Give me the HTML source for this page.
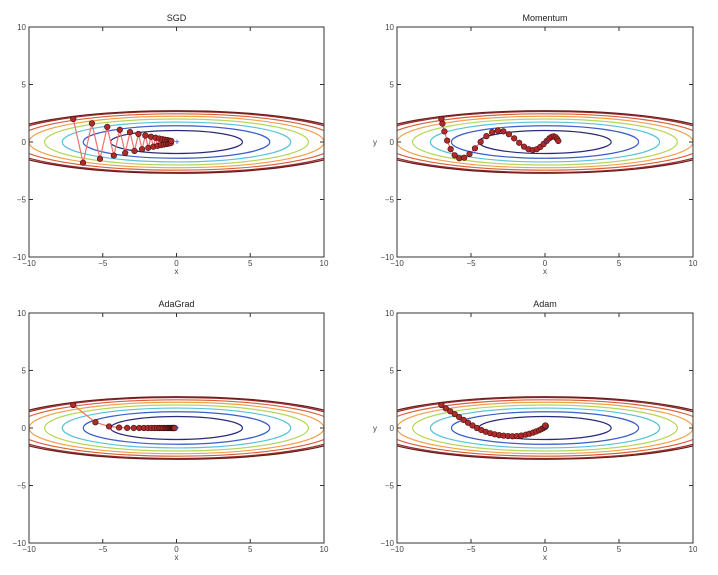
<!DOCTYPE html>
<html><head><meta charset="utf-8"><style>
body{margin:0;background:#fff}
svg{display:block;font-family:"Liberation Sans",sans-serif}
</style></head><body>
<svg id="fig" width="718" height="575" viewBox="0 0 718 575" xmlns="http://www.w3.org/2000/svg"></svg>
<script>
const contourLevels=[1,2,3,4,5,6,7,7.4];
const contourColors=["#2b2b7a","#3b5ec8","#5cc3d8","#b5d65a","#f2a04c","#d8603c","#9a2a2a","#6a1c1c"];
const tickValues=[-10,-5,0,5,10];
const tickLabels=["\u221210","\u22125","0","5","10"];
const sgdX=[-7,-6.335,-5.733,-5.188,-4.695,-4.249,-3.846,-3.480,-3.150,-2.850,-2.580,-2.335,-2.113,-1.912,-1.730,-1.566,-1.417,-1.282,-1.161,-1.050,-0.951,-0.860,-0.778,-0.704,-0.637,-0.577,-0.522,-0.472,-0.427,-0.387,-0.350];
const sgdY=[2,-1.8,1.62,-1.458,1.312,-1.181,1.063,-0.957,0.861,-0.775,0.697,-0.628,0.565,-0.508,0.458,-0.412,0.371,-0.334,0.300,-0.270,0.243,-0.219,0.197,-0.177,0.160,-0.144,0.129,-0.116,0.105,-0.094,0.085];
const momX=[-7,-6.93,-6.798,-6.611,-6.376,-6.102,-5.793,-5.458,-5.101,-4.730,-4.348,-3.960,-3.572,-3.187,-2.809,-2.440,-2.084,-1.743,-1.418,-1.112,-0.825,-0.558,-0.313,-0.089,0.114,0.295,0.455,0.594,0.714,0.814,0.897];
const momY=[2,1.6,0.92,0.124,-0.617,-1.161,-1.418,-1.366,-1.046,-0.548,0.009,0.509,0.857,0.999,0.927,0.676,0.316,-0.072,-0.406,-0.626,-0.699,-0.624,-0.433,-0.174,0.094,0.317,0.453,0.486,0.418,0.273,0.088];
const adaX=[-7,-5.5,-4.573,-3.888,-3.345,-2.899,-2.524,-2.206,-1.932,-1.695,-1.489,-1.310,-1.153,-1.015,-0.895,-0.788,-0.695,-0.613,-0.540,-0.477,-0.420,-0.371,-0.327,-0.289,-0.255,-0.225,-0.198,-0.175,-0.154,-0.136,-0.120];
const adaY=[2,0.5,0.136,0.037,0.010,0.003,0.001,0,0,0,0,0,0,0,0,0,0,0,0,0,0,0,0,0,0,0,0,0,0,0,0];
const adamX=[-7,-6.7,-6.4,-6.1,-5.8,-5.5,-5.2,-4.9,-4.6,-4.3,-4.0,-3.7,-3.4,-3.1,-2.8,-2.5,-2.2,-1.9,-1.6,-1.3,-1.05,-0.8,-0.6,-0.4,-0.25,-0.1,0,0.05,0.05,0.02];
const adamY=[2,1.7,1.45,1.2,0.95,0.7,0.45,0.22,0,-0.18,-0.33,-0.45,-0.55,-0.62,-0.67,-0.7,-0.72,-0.7,-0.66,-0.58,-0.5,-0.4,-0.3,-0.2,-0.1,0,0.08,0.15,0.2,0.22];
const panels=[
 {name:"sgd",title:"SGD",x0:29,x1:324,y0:27,y1:257,ylab:false,xs:sgdX,ys:sgdY},
 {name:"momentum",title:"Momentum",x0:397,x1:693,y0:27,y1:257,ylab:true,xs:momX,ys:momY},
 {name:"adagrad",title:"AdaGrad",x0:29,x1:324,y0:313,y1:543,ylab:false,xs:adaX,ys:adaY},
 {name:"adam",title:"Adam",x0:397,x1:693,y0:313,y1:543,ylab:true,xs:adamX,ys:adamY}
];
const NS="http://www.w3.org/2000/svg";
const svg=document.getElementById("fig");
function mk(tag,attrs,parent){const e=document.createElementNS(NS,tag);for(const k in attrs)e.setAttribute(k,attrs[k]);parent.appendChild(e);return e;}
panels.forEach((p,pi)=>{
 const sx=v=>p.x0+(v+10)/20*(p.x1-p.x0);
 const sy=v=>p.y1-(v+10)/20*(p.y1-p.y0);
 const g=mk("g",{},svg);
 
 
 const cid="clip"+pi;
 const cp=mk("clipPath",{id:cid},g);
 mk("rect",{x:p.x0,y:p.y0,width:p.x1-p.x0,height:p.y1-p.y0},cp);
 const cg=mk("g",{"clip-path":"url(#"+cid+")"},g);
 contourLevels.forEach((f,i)=>{
  const rx=Math.sqrt(20*f), ry=Math.sqrt(f);
  const e=mk("ellipse",{cx:sx(0),cy:sy(0),rx:sx(rx)-sx(0),ry:sy(0)-sy(ry),fill:"none",stroke:contourColors[i],"stroke-width":1.2},cg);
  
  
 });
 const pts=p.xs.map((x,i)=>sx(x).toFixed(1)+","+sy(p.ys[i]).toFixed(1)).join(" ");
 const pl=mk("polyline",{points:pts,fill:"none",stroke:"#f07070","stroke-width":1.2},cg);
 
 
 p.xs.forEach((x,i)=>{
  const c=mk("circle",{cx:sx(x),cy:sy(p.ys[i]),r:2.8,fill:"#b02a2a",stroke:"#401010","stroke-width":0.6},cg);
  
  
 });
 const plus=mk("text",{x:sx(0)+0.5,y:sy(0)+3,"font-size":9,fill:"#2040c0","text-anchor":"middle"},cg);
 plus.textContent="+";
 
 
 const fr=mk("rect",{x:p.x0,y:p.y0,width:p.x1-p.x0,height:p.y1-p.y0,fill:"none",stroke:"#333","stroke-width":1},g);
 
 
 tickValues.forEach((v,i)=>{
  mk("line",{x1:sx(v),x2:sx(v),y1:p.y1,y2:p.y1-4,stroke:"#333"},g);
  mk("line",{x1:sx(v),x2:sx(v),y1:p.y0,y2:p.y0+4,stroke:"#333"},g);
  mk("line",{x1:p.x0,x2:p.x0+4,y1:sy(v),y2:sy(v),stroke:"#333"},g);
  mk("line",{x1:p.x1,x2:p.x1-4,y1:sy(v),y2:sy(v),stroke:"#333"},g);
  const tx=mk("text",{x:sx(v),y:p.y1+9,"font-size":8,fill:"#444","text-anchor":"middle"},g);
  tx.textContent=tickLabels[i];
  
  
  const ty=mk("text",{x:p.x0-3,y:sy(v)+3,"font-size":8,fill:"#444","text-anchor":"end"},g);
  ty.textContent=tickLabels[i];
  
  
 });
 const t=mk("text",{x:(p.x0+p.x1)/2,y:p.y0-6,"font-size":9,fill:"#222","text-anchor":"middle"},g);
 t.textContent=p.title;
 
 
 const xl=mk("text",{x:(p.x0+p.x1)/2,y:p.y1+17,"font-size":8,fill:"#444","text-anchor":"middle"},g);
 xl.textContent="x";
 
 
 if(p.ylab){
  const yl=mk("text",{x:p.x0-22,y:sy(0)+3,"font-size":8,fill:"#444","text-anchor":"middle"},g);
  yl.textContent="y";
  
  
 }
});
</script>
</body></html>
